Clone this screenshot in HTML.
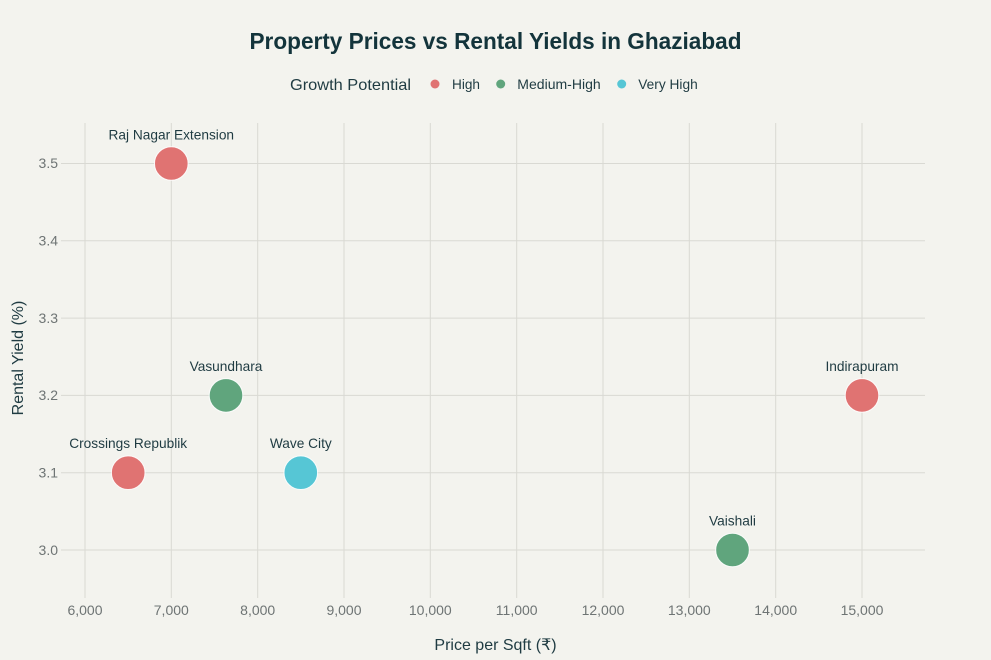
<!DOCTYPE html>
<html>
<head>
<meta charset="utf-8">
<style>
html,body{margin:0;padding:0;background:#f3f3ee;}
svg{display:block;}
text{font-family:"Liberation Sans","DejaVu Sans",sans-serif;}
</style>
</head>
<body>
<svg width="991" height="660" viewBox="0 0 991 660" xmlns="http://www.w3.org/2000/svg">
<rect width="991" height="660" fill="#f3f3ee"/>
<!-- grid -->
<g stroke="#d9d9d3" stroke-width="1">
  <line x1="85" y1="123" x2="85" y2="598"/>
  <line x1="171.3" y1="123" x2="171.3" y2="598"/>
  <line x1="257.7" y1="123" x2="257.7" y2="598"/>
  <line x1="344" y1="123" x2="344" y2="598"/>
  <line x1="430.3" y1="123" x2="430.3" y2="598"/>
  <line x1="516.7" y1="123" x2="516.7" y2="598"/>
  <line x1="603" y1="123" x2="603" y2="598"/>
  <line x1="689.3" y1="123" x2="689.3" y2="598"/>
  <line x1="775.7" y1="123" x2="775.7" y2="598"/>
  <line x1="862" y1="123" x2="862" y2="598"/>
  <line x1="61" y1="163.5" x2="925" y2="163.5"/>
  <line x1="61" y1="240.8" x2="925" y2="240.8"/>
  <line x1="61" y1="318.1" x2="925" y2="318.1"/>
  <line x1="61" y1="395.4" x2="925" y2="395.4"/>
  <line x1="61" y1="472.7" x2="925" y2="472.7"/>
  <line x1="61" y1="550" x2="925" y2="550"/>
</g>
<!-- y tick labels -->
<g fill="#6e7474" font-size="14" text-anchor="end">
  <text x="58" y="168">3.5</text>
  <text x="58" y="245.5">3.4</text>
  <text x="58" y="323">3.3</text>
  <text x="58" y="400">3.2</text>
  <text x="58" y="477.5">3.1</text>
  <text x="58" y="555">3.0</text>
</g>
<!-- x tick labels -->
<g fill="#6e7474" font-size="14" text-anchor="middle">
  <text x="85" y="615">6,000</text>
  <text x="171.3" y="615">7,000</text>
  <text x="257.7" y="615">8,000</text>
  <text x="344" y="615">9,000</text>
  <text x="430.3" y="615">10,000</text>
  <text x="516.7" y="615">11,000</text>
  <text x="603" y="615">12,000</text>
  <text x="689.3" y="615">13,000</text>
  <text x="775.7" y="615">14,000</text>
  <text x="862" y="615">15,000</text>
</g>
<!-- bubbles -->
<g stroke="#ffffff" stroke-width="1" stroke-opacity="0.9">
  <circle cx="171.3" cy="163.5" r="16.8" fill="#e07372"/>
  <circle cx="226" cy="395.4" r="16.8" fill="#60a57d"/>
  <circle cx="128.2" cy="472.7" r="16.8" fill="#e07372"/>
  <circle cx="300.8" cy="472.7" r="16.8" fill="#56c6d5"/>
  <circle cx="862" cy="395.4" r="16.8" fill="#e07372"/>
  <circle cx="732.5" cy="550" r="16.8" fill="#60a57d"/>
</g>
<!-- point labels -->
<g fill="#1f3b42" font-size="13.7" text-anchor="middle">
  <text x="171.3" y="139.5">Raj Nagar Extension</text>
  <text x="226" y="371">Vasundhara</text>
  <text x="128.2" y="448">Crossings Republik</text>
  <text x="300.8" y="448">Wave City</text>
  <text x="862" y="371">Indirapuram</text>
  <text x="732.5" y="525.5">Vaishali</text>
</g>
<!-- title -->
<text x="495.5" y="49" font-size="23" font-weight="bold" fill="#13343b" text-anchor="middle" textLength="492" lengthAdjust="spacingAndGlyphs">Property Prices vs Rental Yields in Ghaziabad</text>
<!-- legend -->
<text x="290" y="90" font-size="16" fill="#1f3b42" textLength="121" lengthAdjust="spacingAndGlyphs">Growth Potential</text>
<circle cx="435" cy="84" r="4.5" fill="#e07372"/>
<text x="452" y="89" font-size="14" fill="#1f3b42" textLength="28" lengthAdjust="spacingAndGlyphs">High</text>
<circle cx="500.7" cy="84" r="4.5" fill="#60a57d"/>
<text x="517.3" y="89" font-size="14" fill="#1f3b42" textLength="83.4" lengthAdjust="spacingAndGlyphs">Medium-High</text>
<circle cx="621.7" cy="84" r="4.5" fill="#56c6d5"/>
<text x="638.3" y="89" font-size="14" fill="#1f3b42" textLength="59.4" lengthAdjust="spacingAndGlyphs">Very High</text>
<!-- axis titles -->
<text x="495.5" y="650" font-size="16" fill="#1f3b42" text-anchor="middle">Price per Sqft (₹)</text>
<text transform="translate(23,358) rotate(-90)" font-size="16" fill="#1f3b42" text-anchor="middle">Rental Yield (%)</text>
</svg>
</body>
</html>
